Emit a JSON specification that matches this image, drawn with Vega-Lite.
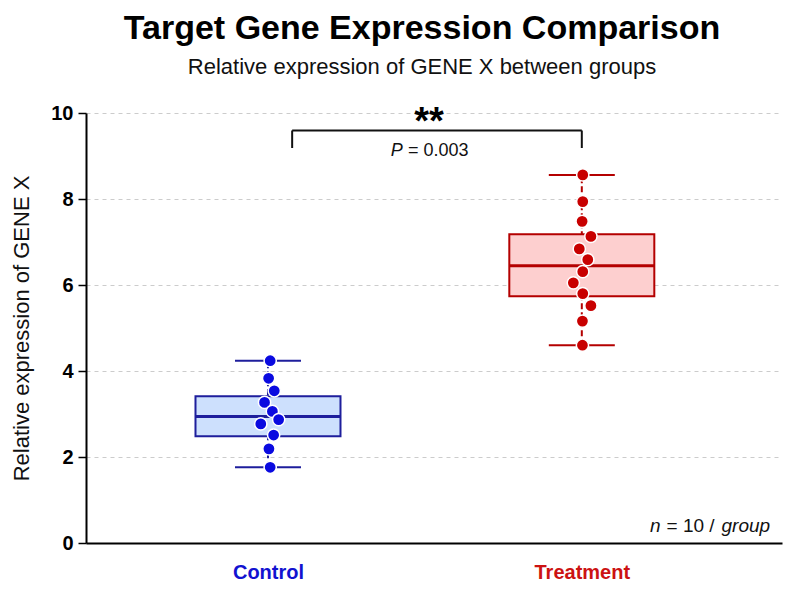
{
  "$schema": "https://vega.github.io/schema/vega-lite/v6.json",
  "width": 696,
  "height": 430,
  "autosize": {"type": "none"},
  "padding": {"left": 86, "top": 113, "right": 18, "bottom": 59},
  "background": "white",
  "title": {
    "text": "Target Gene Expression Comparison",
    "subtitle": "Relative expression of GENE X between groups",
    "anchor": "middle",
    "frame": "group",
    "font": "Liberation Sans",
    "fontSize": 34,
    "fontWeight": "bold",
    "color": "#000000",
    "subtitleFont": "Liberation Sans",
    "subtitleFontSize": 22,
    "subtitleColor": "#111111",
    "subtitlePadding": 11,
    "offset": 25,
    "dx": -12
  },
  "datasets": {
    "points": [
      {"group": "Control", "x": 1.007, "value": 4.24},
      {"group": "Control", "x": 1.002, "value": 3.83},
      {"group": "Control", "x": 1.020, "value": 3.54},
      {"group": "Control", "x": 0.989, "value": 3.27},
      {"group": "Control", "x": 1.014, "value": 3.06},
      {"group": "Control", "x": 1.034, "value": 2.87},
      {"group": "Control", "x": 0.977, "value": 2.77},
      {"group": "Control", "x": 1.018, "value": 2.51},
      {"group": "Control", "x": 1.003, "value": 2.19},
      {"group": "Control", "x": 1.007, "value": 1.76},
      {"group": "Treatment", "x": 2.003, "value": 8.56},
      {"group": "Treatment", "x": 2.003, "value": 7.94},
      {"group": "Treatment", "x": 2.001, "value": 7.48},
      {"group": "Treatment", "x": 2.029, "value": 7.13},
      {"group": "Treatment", "x": 1.992, "value": 6.84},
      {"group": "Treatment", "x": 2.019, "value": 6.59},
      {"group": "Treatment", "x": 2.003, "value": 6.31},
      {"group": "Treatment", "x": 1.973, "value": 6.05},
      {"group": "Treatment", "x": 2.003, "value": 5.80},
      {"group": "Treatment", "x": 2.029, "value": 5.52},
      {"group": "Treatment", "x": 2.002, "value": 5.16},
      {"group": "Treatment", "x": 2.002, "value": 4.60}
    ],
    "summary": [
      {"group": "Control", "pos": 1, "min": 1.76, "q1": 2.48, "median": 2.94, "q3": 3.41, "max": 4.24},
      {"group": "Treatment", "pos": 2, "min": 4.60, "q1": 5.74, "median": 6.45, "q3": 7.18, "max": 8.56}
    ]
  },
  "layer": [
    {
      "data": {"name": "summary"},
      "mark": {"type": "rule", "strokeWidth": 2, "strokeDash": [6, 3]},
      "encoding": {
        "x": {
          "field": "pos",
          "type": "quantitative",
          "scale": {"domain": [0.436, 2.622], "nice": false, "zero": false},
          "axis": {
            "values": [1, 2],
            "labelExpr": "datum.value == 1 ? 'Control' : 'Treatment'",
            "title": null,
            "labelColor": {"condition": {"test": "datum.value == 1", "value": "#1212d0"}, "value": "#cc1212"}
          }
        },
        "y": {
          "field": "min",
          "type": "quantitative",
          "scale": {"domain": [0, 10], "nice": false},
          "axis": {
            "values": [0, 2, 4, 6, 8, 10],
            "title": "Relative expression of GENE X"
          }
        },
        "y2": {"field": "max"},
        "stroke": {"field": "group", "type": "nominal", "scale": {"domain": ["Control", "Treatment"], "range": ["#1e1e9c", "#b40000"]}, "legend": null}
      }
    },
    {
      "data": {"name": "summary"},
      "transform": [{"fold": ["min", "max"], "as": ["stat", "whisker"]}],
      "mark": {"type": "tick", "orient": "horizontal", "size": 66, "thickness": 2, "opacity": 1},
      "encoding": {
        "x": {"field": "pos", "type": "quantitative", "scale": {"domain": [0.436, 2.622], "nice": false, "zero": false}},
        "y": {"field": "whisker", "type": "quantitative", "scale": {"domain": [0, 10], "nice": false}},
        "color": {"field": "group", "type": "nominal", "scale": {"domain": ["Control", "Treatment"], "range": ["#1e1e9c", "#b40000"]}, "legend": null}
      }
    },
    {
      "data": {"name": "summary"},
      "mark": {"type": "bar", "width": 145, "strokeWidth": 2, "fillOpacity": 1},
      "encoding": {
        "x": {"field": "pos", "type": "quantitative", "scale": {"domain": [0.436, 2.622], "nice": false, "zero": false}},
        "y": {"field": "q1", "type": "quantitative", "scale": {"domain": [0, 10], "nice": false}},
        "y2": {"field": "q3"},
        "fill": {"field": "group", "type": "nominal", "scale": {"domain": ["Control", "Treatment"], "range": ["#cde0fd", "#fdcfcf"]}, "legend": null},
        "stroke": {"field": "group", "type": "nominal", "scale": {"domain": ["Control", "Treatment"], "range": ["#1e1e9c", "#b40000"]}, "legend": null}
      }
    },
    {
      "data": {"name": "summary"},
      "mark": {"type": "tick", "orient": "horizontal", "size": 145, "thickness": 3, "opacity": 1},
      "encoding": {
        "x": {"field": "pos", "type": "quantitative", "scale": {"domain": [0.436, 2.622], "nice": false, "zero": false}},
        "y": {"field": "median", "type": "quantitative", "scale": {"domain": [0, 10], "nice": false}},
        "color": {"field": "group", "type": "nominal", "scale": {"domain": ["Control", "Treatment"], "range": ["#1e1e9c", "#b40000"]}, "legend": null}
      }
    },
    {
      "data": {"name": "points"},
      "mark": {"type": "circle", "size": 150, "stroke": "#ffffff", "strokeWidth": 1.5, "opacity": 1},
      "encoding": {
        "x": {"field": "x", "type": "quantitative", "scale": {"domain": [0.436, 2.622], "nice": false, "zero": false}},
        "y": {"field": "value", "type": "quantitative", "scale": {"domain": [0, 10], "nice": false}},
        "fill": {"field": "group", "type": "nominal", "scale": {"domain": ["Control", "Treatment"], "range": ["#0a0ae0", "#c80000"]}, "legend": null}
      }
    },
    {
      "data": {"values": [{}]},
      "mark": {"type": "rule", "color": "#111111", "strokeWidth": 2},
      "encoding": {
        "x": {"datum": 1.077, "type": "quantitative"},
        "x2": {"datum": 2.0},
        "y": {"datum": 9.593, "type": "quantitative"}
      }
    },
    {
      "data": {"values": [{}]},
      "mark": {"type": "rule", "color": "#111111", "strokeWidth": 2},
      "encoding": {
        "x": {"datum": 1.077, "type": "quantitative"},
        "y": {"datum": 9.186, "type": "quantitative"},
        "y2": {"datum": 9.593}
      }
    },
    {
      "data": {"values": [{}]},
      "mark": {"type": "rule", "color": "#111111", "strokeWidth": 2},
      "encoding": {
        "x": {"datum": 2.0, "type": "quantitative"},
        "y": {"datum": 9.186, "type": "quantitative"},
        "y2": {"datum": 9.593}
      }
    },
    {
      "data": {"values": [{}]},
      "mark": {"type": "text", "text": "**", "font": "Liberation Sans", "fontSize": 38, "fontWeight": "bold", "align": "center", "baseline": "alphabetic", "color": "#000000"},
      "encoding": {
        "x": {"datum": 1.513, "type": "quantitative"},
        "y": {"datum": 9.52, "type": "quantitative"}
      }
    },
    {
      "data": {"values": [{}]},
      "mark": {"type": "text", "text": "P", "font": "Liberation Sans", "fontSize": 18, "fontStyle": "italic", "align": "left", "baseline": "alphabetic", "color": "#111111"},
      "encoding": {
        "x": {"datum": 1.391, "type": "quantitative"},
        "y": {"datum": 9.007, "type": "quantitative"}
      }
    },
    {
      "data": {"values": [{}]},
      "mark": {"type": "text", "text": "= 0.003", "font": "Liberation Sans", "fontSize": 18, "align": "left", "baseline": "alphabetic", "color": "#111111"},
      "encoding": {
        "x": {"datum": 1.446, "type": "quantitative"},
        "y": {"datum": 9.007, "type": "quantitative"}
      }
    },
    {
      "data": {"values": [{}]},
      "mark": {"type": "text", "text": "n", "font": "Liberation Sans", "fontSize": 19, "fontStyle": "italic", "align": "left", "baseline": "alphabetic", "color": "#111111"},
      "encoding": {
        "x": {"datum": 2.217, "type": "quantitative"},
        "y": {"datum": 0.256, "type": "quantitative"}
      }
    },
    {
      "data": {"values": [{}]},
      "mark": {"type": "text", "text": "= 10 /", "font": "Liberation Sans", "fontSize": 19, "align": "left", "baseline": "alphabetic", "color": "#111111"},
      "encoding": {
        "x": {"datum": 2.27, "type": "quantitative"},
        "y": {"datum": 0.256, "type": "quantitative"}
      }
    },
    {
      "data": {"values": [{}]},
      "mark": {"type": "text", "text": "group", "font": "Liberation Sans", "fontSize": 19, "fontStyle": "italic", "align": "right", "baseline": "alphabetic", "color": "#111111"},
      "encoding": {
        "x": {"datum": 2.6, "type": "quantitative"},
        "y": {"datum": 0.256, "type": "quantitative"}
      }
    }
  ],
  "resolve": {"scale": {"fill": "independent", "stroke": "independent", "color": "independent"}},
  "config": {
    "view": {"stroke": null},
    "font": "Liberation Sans",
    "axisX": {
      "ticks": false,
      "grid": false,
      "domainColor": "#000000",
      "domainWidth": 2,
      "labelFont": "Liberation Sans",
      "labelFontSize": 20,
      "labelFontWeight": "bold",
      "labelPadding": 19,
      "labelFlush": false,
      "labelOverlap": false
    },
    "axisY": {
      "titleFont": "Liberation Sans",
      "titleFontSize": 22,
      "titleFontWeight": "normal",
      "titleColor": "#111111",
      "titlePadding": 17,
      "labelFont": "Liberation Sans",
      "labelFontSize": 20,
      "labelFontWeight": "bold",
      "labelColor": "#000000",
      "labelPadding": 5,
      "tickColor": "#000000",
      "tickSize": 8,
      "tickWidth": 1.5,
      "domainColor": "#000000",
      "domainWidth": 2,
      "grid": true,
      "gridColor": "#cccccc",
      "gridDash": [4, 4],
      "gridWidth": 1
    }
  }
}
